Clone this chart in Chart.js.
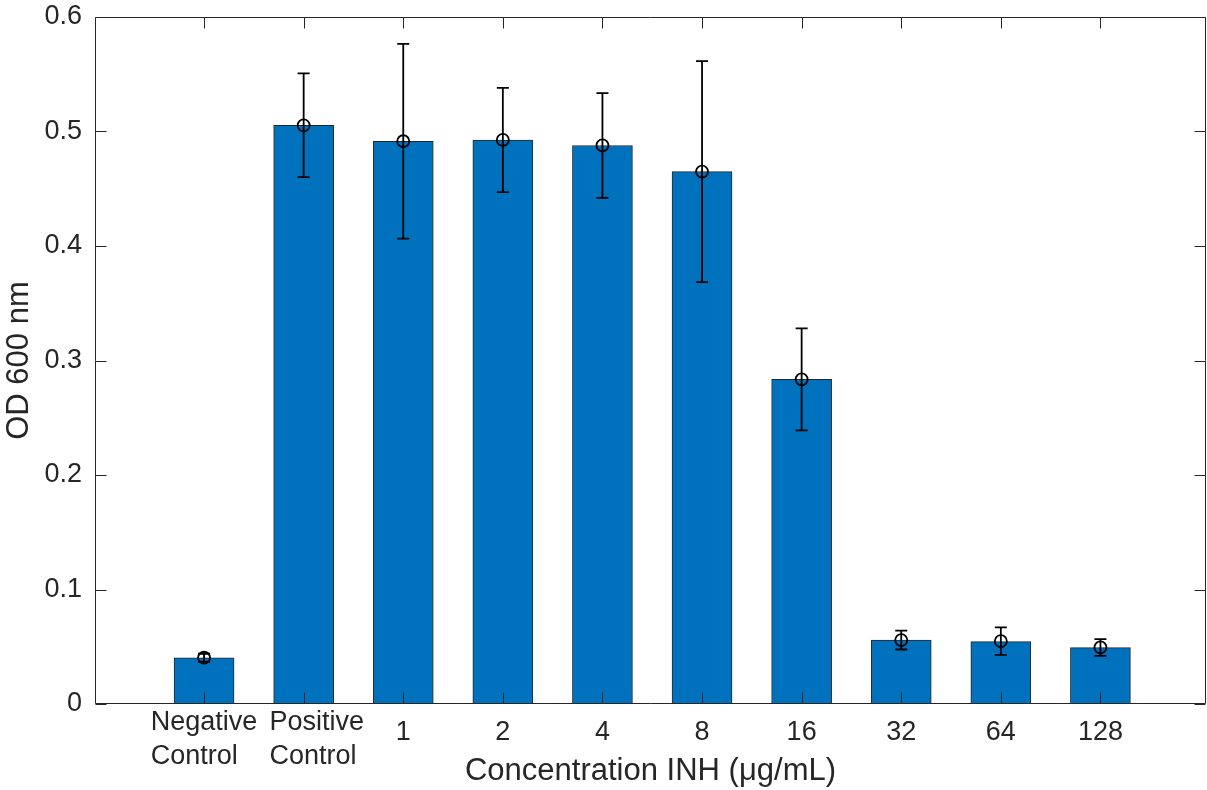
<!DOCTYPE html>
<html>
<head>
<meta charset="utf-8">
<script src="https://cdn.jsdelivr.net/npm/chart.js@4.4.1/dist/chart.umd.min.js"></script>
<style>
  html, body { margin: 0; padding: 0; background: #ffffff; }
  #wrap { width: 1207px; height: 790px; }
</style>
</head>
<body>
<div id="wrap"><canvas id="c" width="1207" height="790"></canvas></div>
<script>
// ---- data ----
const categories = ['Negative\nControl', 'Positive\nControl', '1', '2', '4', '8', '16', '32', '64', '128'];
const positions  = [1, 2, 3, 4, 5, 6, 7, 8, 9, 10];
const barValues  = [0.0404, 0.5054, 0.4915, 0.4926, 0.4878, 0.4650, 0.2835, 0.0558, 0.0545, 0.0492];
const meanValues = [0.0404, 0.5054, 0.4915, 0.4926, 0.4878, 0.4650, 0.2835, 0.0558, 0.0549, 0.0494];
const errValues  = [0.0035, 0.0453, 0.0850, 0.0455, 0.0458, 0.0965, 0.0445, 0.0082, 0.0120, 0.0073];
const yTicks     = [0, 0.1, 0.2, 0.3, 0.4, 0.5, 0.6];
const xTitle = 'Concentration INH (\u03BCg/mL)';
const yTitle = 'OD 600 nm';

// ---- style ----
const FONT = '"Liberation Sans", Arial, Helvetica, sans-serif';
const TXT = '#262626';
const TICK_SIZE = 27;
const LABEL_NUDGE = [0, 13, 0, 0, 0, 0, 0, 0, 0, 0]; // px, horizontal nudge of x tick label blocks

const bgPlugin = {
  id: 'bg',
  beforeDraw(chart) {
    const ctx = chart.ctx;
    ctx.save();
    ctx.fillStyle = '#ffffff';
    ctx.fillRect(0, 0, chart.width, chart.height);
    ctx.restore();
  }
};

const boxPlugin = {
  id: 'boxTicks',
  afterDatasetsDraw(chart) {
    const ctx = chart.ctx;
    const a = chart.chartArea;
    const xs = chart.scales.x, ys = chart.scales.y;
    const L = Math.round(a.left) + 0.5, R = Math.round(a.right) - 0.5;
    const T = Math.round(a.top) + 0.5, B = Math.round(a.bottom) - 0.5;
    const tl = 11;
    ctx.save();
    // error bars
    ctx.strokeStyle = '#000000';
    ctx.lineWidth = 1.8;
    positions.forEach((p, i) => {
      const x = xs.getPixelForValue(p);
      const yt = ys.getPixelForValue(meanValues[i] + errValues[i]);
      const yb = ys.getPixelForValue(meanValues[i] - errValues[i]);
      ctx.beginPath();
      ctx.moveTo(x, yt); ctx.lineTo(x, yb);
      ctx.moveTo(x - 6, yt); ctx.lineTo(x + 6, yt);
      ctx.moveTo(x - 6, yb); ctx.lineTo(x + 6, yb);
      ctx.stroke();
    });
    // box
    ctx.strokeStyle = TXT;
    ctx.lineWidth = 1;
    ctx.beginPath();
    ctx.moveTo(L, T); ctx.lineTo(R, T); ctx.lineTo(R, B); ctx.lineTo(L, B); ctx.closePath();
    ctx.stroke();
    // inward tick marks on all four sides
    ctx.beginPath();
    yTicks.forEach(v => {
      const y = Math.round(ys.getPixelForValue(v)) + 0.5;
      ctx.moveTo(L, y); ctx.lineTo(L + tl, y);
      ctx.moveTo(R, y); ctx.lineTo(R - tl, y);
    });
    positions.forEach(p => {
      const x = Math.round(xs.getPixelForValue(p)) + 0.5;
      ctx.moveTo(x, B); ctx.lineTo(x, B - tl);
      ctx.moveTo(x, T); ctx.lineTo(x, T + tl);
    });
    ctx.stroke();
    // x tick labels (multi-line labels are left-aligned, block centred on tick)
    ctx.fillStyle = TXT;
    ctx.font = TICK_SIZE + 'px ' + FONT;
    ctx.textBaseline = 'middle';
    positions.forEach((p, i) => {
      const x = xs.getPixelForValue(p) + LABEL_NUDGE[i];
      const lines = categories[i].split('\n');
      if (lines.length === 1) {
        ctx.textAlign = 'center';
        ctx.fillText(lines[0], x, a.bottom + 29);
      } else {
        const w = Math.max(...lines.map(s => ctx.measureText(s).width));
        ctx.textAlign = 'left';
        lines.forEach((s, j) => ctx.fillText(s, x - w / 2, a.bottom + 19 + 34 * j));
      }
    });
    ctx.restore();
  }
};

const barData = positions.map((p, i) => ({ x: p, y: barValues[i] }));
const meanData = positions.map((p, i) => ({ x: p, y: meanValues[i] }));

new Chart(document.getElementById('c'), {
  type: 'bar',
  data: {
    datasets: [
      {
        type: 'line',
        data: meanData,
        showLine: false,
        pointStyle: 'circle',
        pointRadius: 6,
        pointBorderWidth: 1.8,
        pointBorderColor: '#000000',
        pointBackgroundColor: 'rgba(0,0,0,0)',
        order: 0
      },
      {
        type: 'bar',
        data: barData,
        backgroundColor: '#0072BD',
        borderColor: 'rgba(0,0,0,0.85)',
        borderWidth: 1,
        barThickness: 60,
        order: 1
      }
    ]
  },
  options: {
    responsive: false,
    animation: false,
    events: [],
    layout: { autoPadding: false, padding: { top: 17, right: 1, left: 0, bottom: 0 } },
    plugins: { legend: { display: false }, tooltip: { enabled: false } },
    scales: {
      x: {
        type: 'linear',
        offset: false,
        min: -0.095,
        max: 11.06,
        grid: { display: false, drawTicks: false, offset: false },
        border: { display: false },
        afterBuildTicks(scale) { scale.ticks = positions.map(p => ({ value: p })); },
        afterFit(scale) { scale.height = 86; scale.paddingLeft = 0; scale.paddingRight = 0; },
        ticks: { display: false },
        title: {
          display: true,
          text: xTitle,
          color: TXT,
          font: { family: FONT, size: 31, lineHeight: 1.2 },
          padding: { top: 0, bottom: 0 }
        }
      },
      y: {
        type: 'linear',
        min: 0,
        max: 0.6,
        grid: { display: false, drawTicks: false },
        border: { display: false },
        afterBuildTicks(scale) { scale.ticks = yTicks.map(v => ({ value: v })); },
        afterFit(scale) { scale.width = 95; scale.paddingTop = 0; scale.paddingBottom = 0; },
        ticks: {
          padding: 13,
          color: TXT,
          font: { family: FONT, size: TICK_SIZE },
          callback: (v) => (v === 0 ? '0' : v.toFixed(1))
        },
        title: {
          display: true,
          text: yTitle,
          color: TXT,
          font: { family: FONT, size: 31, lineHeight: 1.0 },
          padding: { top: 4, bottom: 4 }
        }
      }
    }
  },
  plugins: [bgPlugin, boxPlugin]
});
</script>
</body>
</html>
